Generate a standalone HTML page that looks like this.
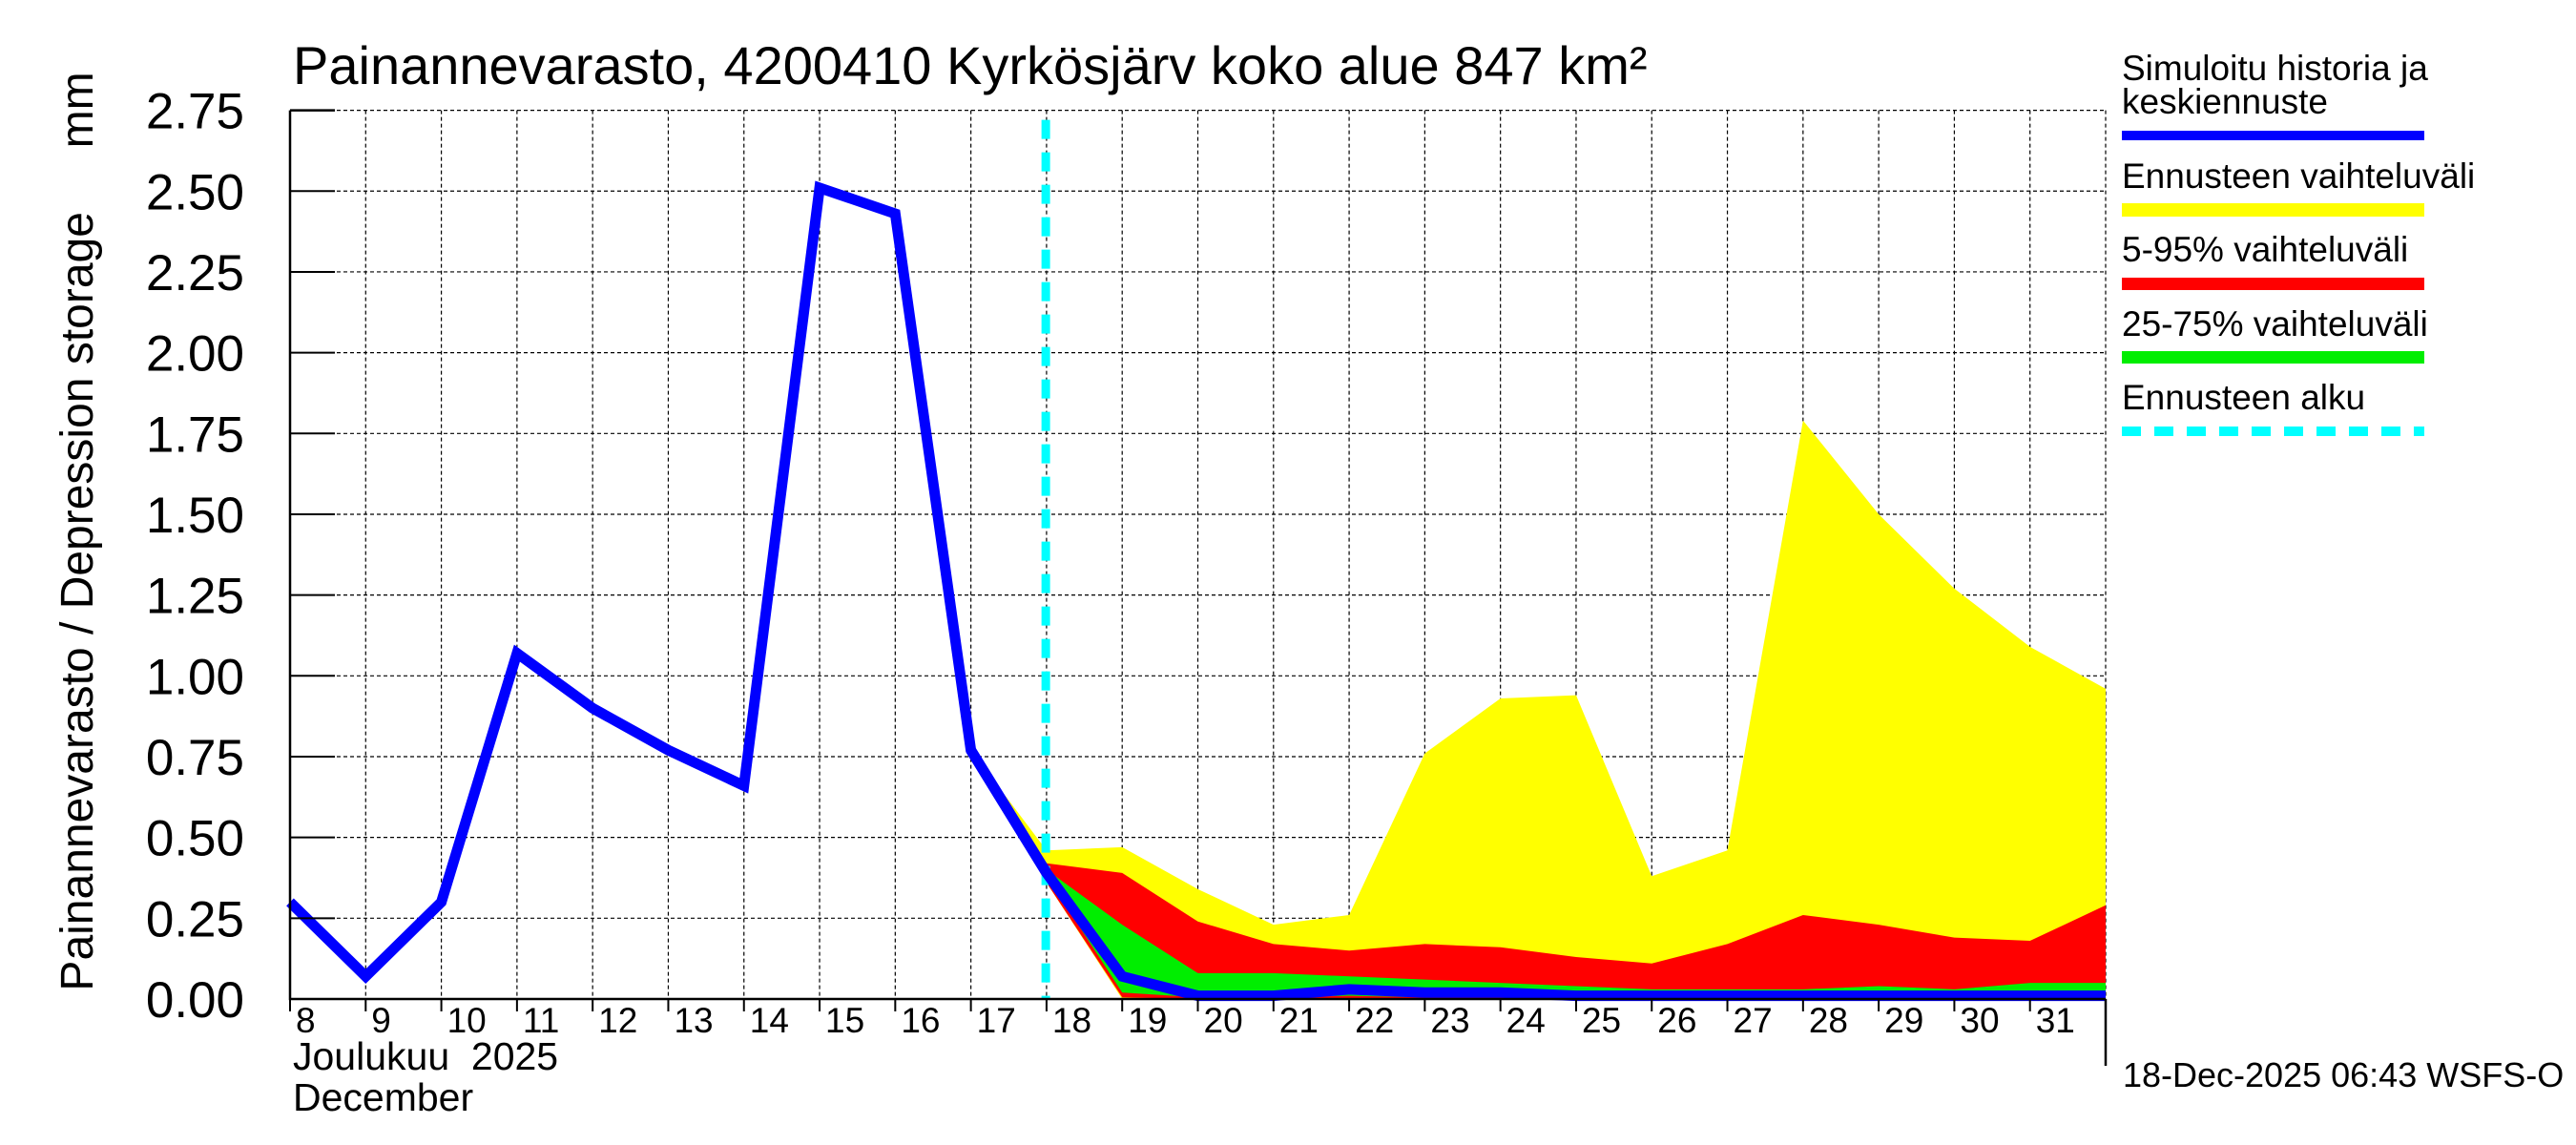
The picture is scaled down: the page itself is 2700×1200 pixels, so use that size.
<!DOCTYPE html>
<html><head><meta charset="utf-8"><style>
html,body{margin:0;padding:0;background:#fff}
svg{display:block;font-family:"Liberation Sans",sans-serif}
</style></head><body>
<svg id="chart" width="2700" height="1200" viewBox="0 0 2700 1200" xmlns="http://www.w3.org/2000/svg">
<rect width="2700" height="1200" fill="#fff"/>
<g id="grid"></g>
<g id="bands"></g>
<g id="lines"></g>
<g id="axes"></g>
<text x="307" y="88" font-size="56">Painannevarasto, 4200410 Kyrkösjärv koko alue 847 km²</text>
<text transform="translate(97,557) rotate(-90)" text-anchor="middle" font-size="48" style="white-space:pre">Painannevarasto / Depression storage     mm</text>
<text x="307" y="1121" font-size="41" style="white-space:pre">Joulukuu  2025</text>
<text x="307" y="1164" font-size="41">December</text>
<g font-size="37">
<text x="2224" y="84">Simuloitu historia ja</text>
<text x="2224" y="119">keskiennuste</text>
<rect x="2224" y="137" width="317" height="10" fill="#0000ff"/>
<text x="2224" y="197">Ennusteen vaihteluväli</text>
<rect x="2224" y="213" width="317" height="14" fill="#ffff00"/>
<text x="2224" y="274">5-95% vaihteluväli</text>
<rect x="2224" y="291" width="317" height="13" fill="#ff0000"/>
<text x="2224" y="352">25-75% vaihteluväli</text>
<rect x="2224" y="368" width="317" height="13" fill="#00ee00"/>
<text x="2224" y="429">Ennusteen alku</text>
<line x1="2224" y1="452" x2="2541" y2="452" stroke="#00ffff" stroke-width="10" stroke-dasharray="20,14"/>
</g>
<text x="2225" y="1139" font-size="36">18-Dec-2025 06:43 WSFS-O</text>
</svg>
<script>
const histDays = [8,9,10,11,12,13,14,15,16,17,18];
const histValues = [0.30,0.07,0.30,1.07,0.90,0.77,0.66,2.51,2.43,0.77,0.39];
const fcDays = [17,18,19,20,21,22,23,24,25,26,27,28,29,30,31,32];
const fcMedian = [0.77,0.39,0.07,0.01,0.01,0.03,0.02,0.02,0.01,0.01,0.01,0.01,0.01,0.01,0.01,0.01];
const yellowMax = [0.77,0.46,0.47,0.34,0.23,0.26,0.76,0.93,0.94,0.38,0.46,1.79,1.50,1.27,1.09,0.96];
const yellowMin = [0.77,0.36,0,0,0,0,0,0,0,0,0,0,0,0,0,0];
const redMax = [0.77,0.42,0.39,0.24,0.17,0.15,0.17,0.16,0.13,0.11,0.17,0.26,0.23,0.19,0.18,0.29];
const redMin = [0.77,0.36,0.005,0,0,0,0,0,0,0,0,0,0,0,0,0];
const greenMax = [0.77,0.40,0.23,0.08,0.08,0.07,0.06,0.05,0.04,0.03,0.03,0.03,0.04,0.03,0.05,0.05];
const greenMin = [0.77,0.38,0.02,0.005,0.005,0.01,0.005,0.005,0.005,0.005,0.005,0.005,0.005,0.005,0.005,0.005];
const yTicks = [0,0.25,0.5,0.75,1,1.25,1.5,1.75,2,2.25,2.5,2.75];
const yTickLabels = ["0.00","0.25","0.50","0.75","1.00","1.25","1.50","1.75","2.00","2.25","2.50","2.75"];
const xLabels = ["8","9","10","11","12","13","14","15","16","17","18","19","20","21","22","23","24","25","26","27","28","29","30","31"];
const forecastStart = 17.99;

const X0=304, X1=2207, D0=8, D1=32, Y0=1047, Y1=115.6, V1=2.75;
const sx = d => X0 + (d-D0)*(X1-X0)/(D1-D0);
const sy = v => Y0 - v*(Y0-Y1)/V1;
const NS="http://www.w3.org/2000/svg";
function mk(tag, attrs, parent){const e=document.createElementNS(NS,tag);for(const k in attrs)e.setAttribute(k,attrs[k]);parent.appendChild(e);return e;}
const grid=document.getElementById('grid'), bands=document.getElementById('bands'), lines=document.getElementById('lines'), axes=document.getElementById('axes');

yTicks.forEach((v,i)=>{
  if(i>0){const g=mk('line',{x1:X0,x2:X1,y1:sy(v),y2:sy(v),stroke:'#000','stroke-width':1.2,'stroke-dasharray':'4,3'},grid);
  
  }
  const t=mk('line',{x1:X0,x2:X0+47,y1:sy(v),y2:sy(v),stroke:'#000','stroke-width':2},axes);
  
  
  const l=mk('text',{x:256,y:sy(v)+19,'text-anchor':'end','font-size':53},axes);
  l.textContent=yTickLabels[i];
  
  
});
for(let d=D0; d<=D1; d++){
  if(d>D0){const g=mk('line',{x1:sx(d),x2:sx(d),y1:Y1,y2:Y0,stroke:'#000','stroke-width':1.2,'stroke-dasharray':'4,3'},grid);
  
  }
  const t=mk('line',{x1:sx(d),x2:sx(d),y1:Y0,y2:Y0+13,stroke:'#000','stroke-width':2},axes);
  
  
}
xLabels.forEach((s,i)=>{
  const l=mk('text',{x:sx(D0+i)+6,y:1082,'font-size':37},axes);
  l.textContent=s;
  
  
});
function band(maxA,minA,color,name){
  let p=fcDays.map((d,i)=>sx(d)+','+sy(maxA[i]));
  for(let i=fcDays.length-1;i>=0;i--)p.push(sx(fcDays[i])+','+sy(minA[i]));
  const e=mk('polygon',{points:p.join(' '),fill:color},bands);
  
  
}
band(yellowMax,yellowMin,'#ffff00','band-full-range');
band(redMax,redMin,'#ff0000','band-5-95');
band(greenMax,greenMin,'#00ee00','band-25-75');

const cy=mk('line',{x1:sx(forecastStart),x2:sx(forecastStart),y1:Y1+10,y2:Y0,stroke:'#00ffff','stroke-width':9,'stroke-dasharray':'20,14'},lines);


const hl=mk('polyline',{points:histDays.map((d,i)=>sx(d)+','+sy(histValues[i])).join(' '),fill:'none',stroke:'#0000ff','stroke-width':11,'stroke-linejoin':'miter'},lines);


const fl=mk('polyline',{points:fcDays.map((d,i)=>sx(d)+','+sy(fcMedian[i])).join(' '),fill:'none',stroke:'#0000ff','stroke-width':11},lines);



const ax=mk('path',{d:`M${X0},${Y1} V${Y0} H${X1} M${X0},${Y1} H${X0+47}`,fill:'none',stroke:'#000','stroke-width':2.5},axes);


const rt=mk('line',{x1:X1,x2:X1,y1:Y0,y2:1117,stroke:'#000','stroke-width':2.5},axes);


</script>
</body></html>
